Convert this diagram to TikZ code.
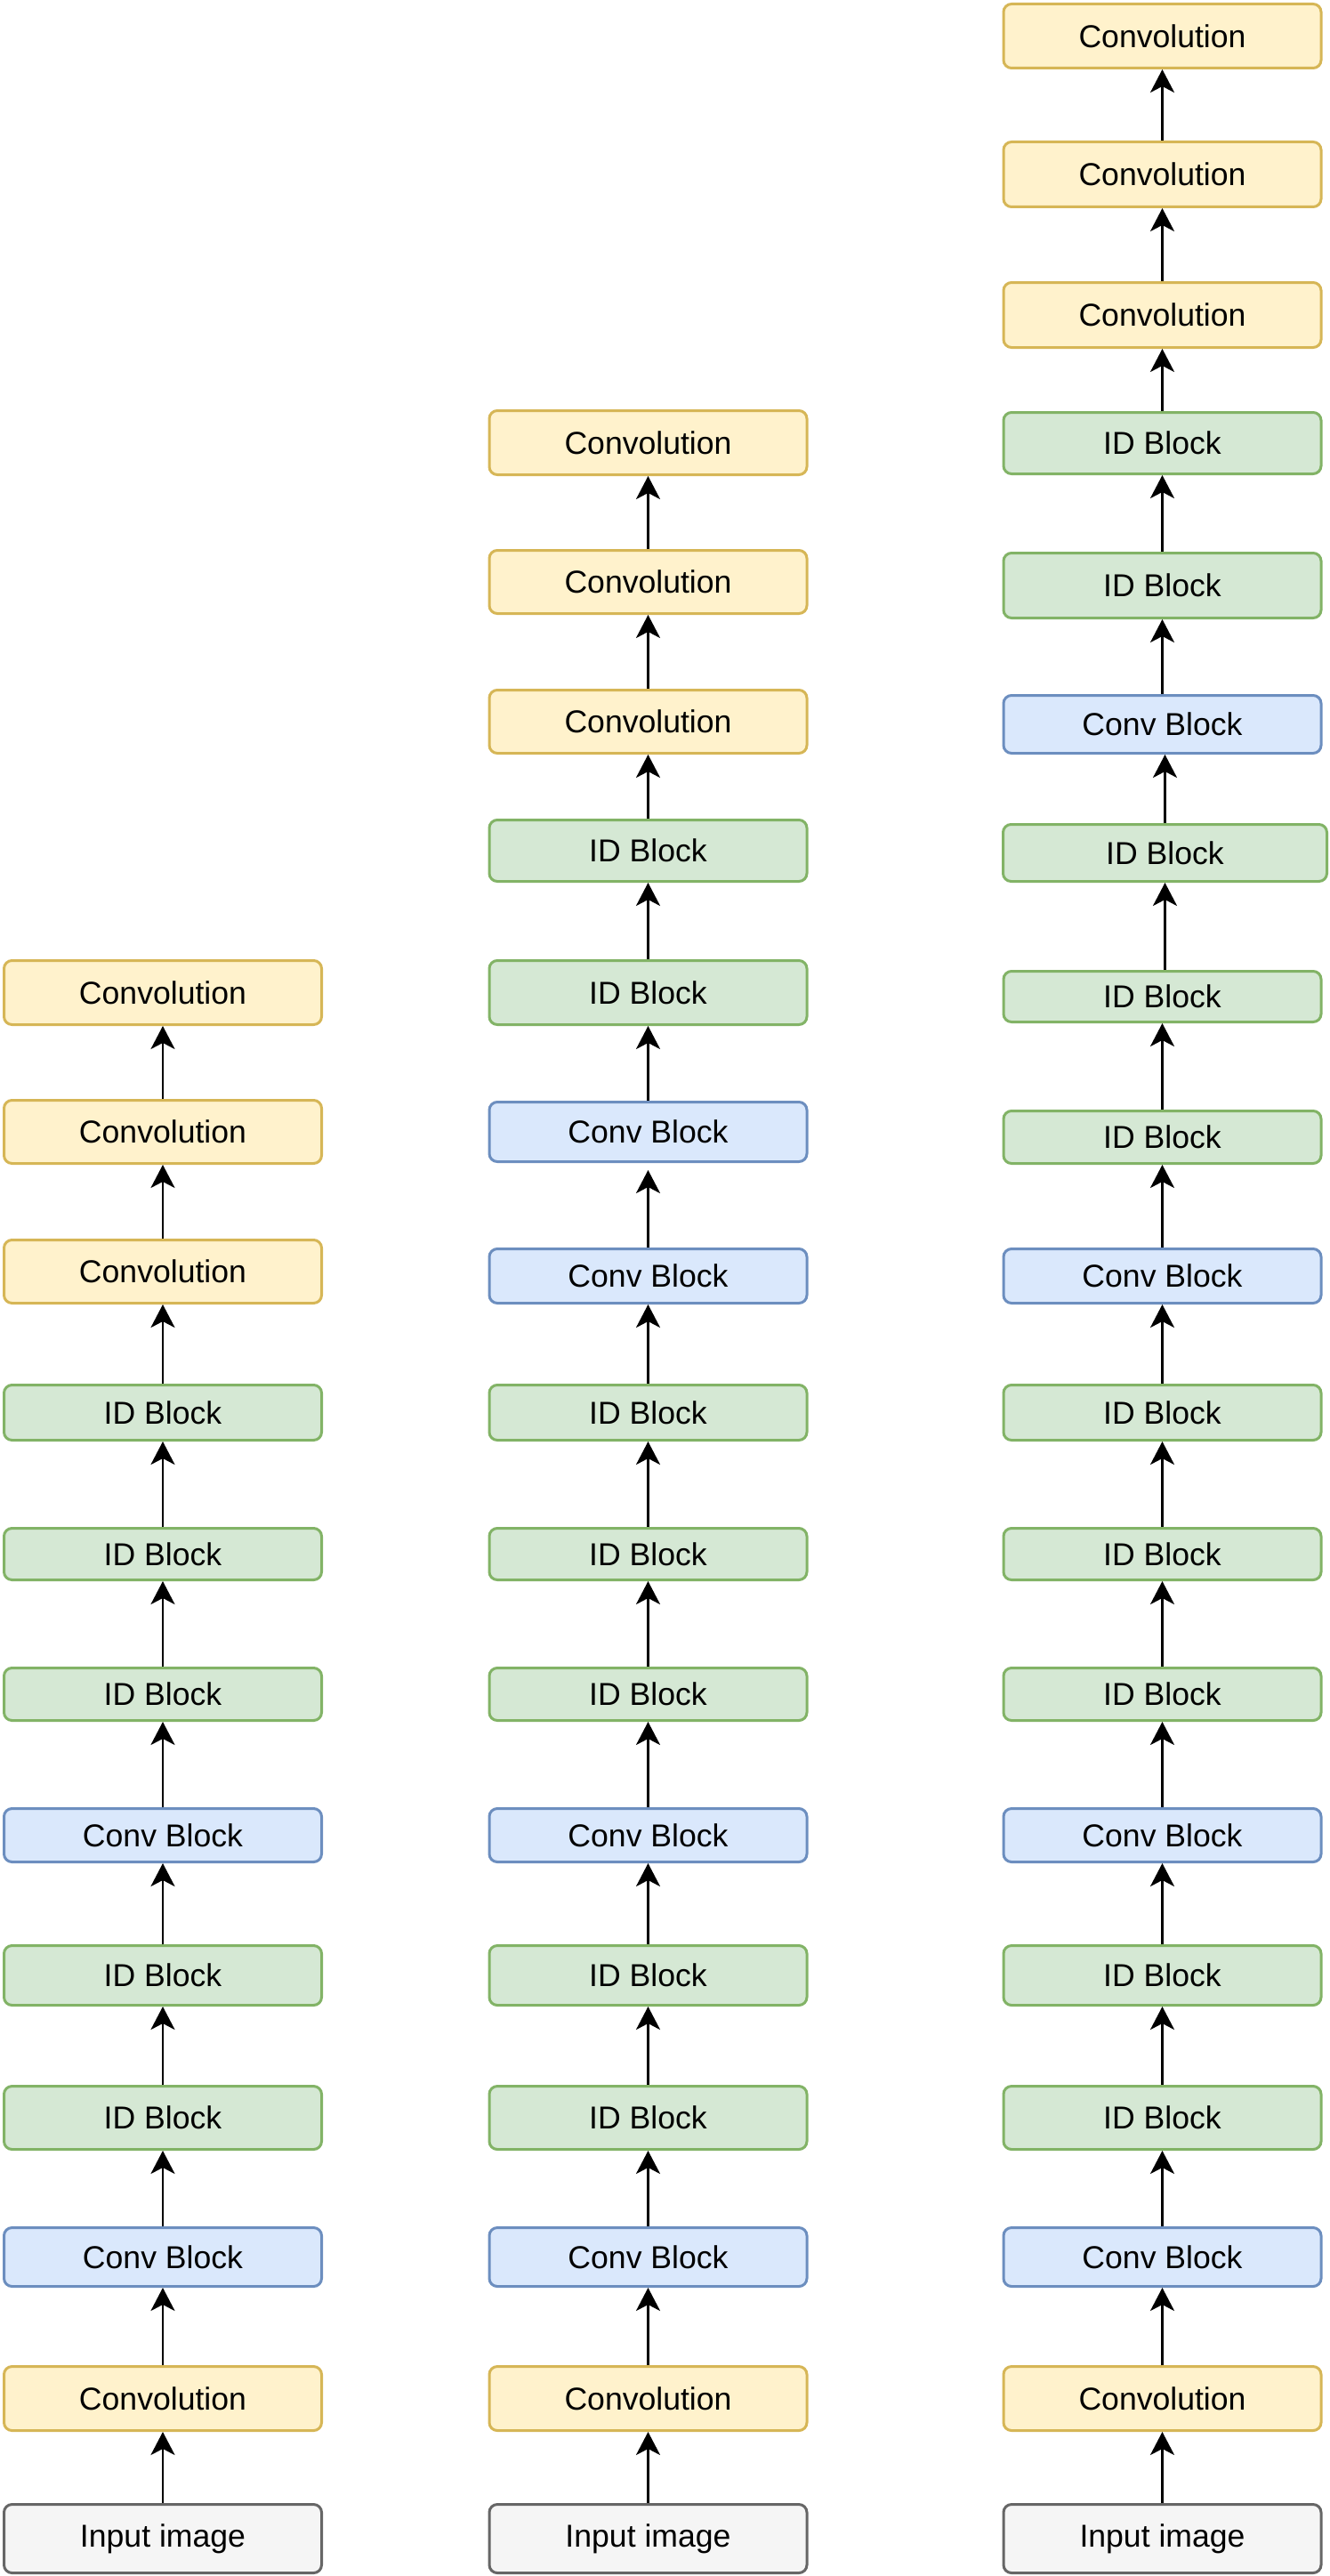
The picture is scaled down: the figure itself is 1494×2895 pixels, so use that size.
\documentclass[tikz,border=0pt]{standalone}
\usepackage{fontspec}
\setmainfont{Liberation Sans}
\usetikzlibrary{arrows.meta}

\definecolor{convfill}{HTML}{FFF2CC}\definecolor{convline}{HTML}{D6B656}
\definecolor{cbfill}{HTML}{DAE8FC}\definecolor{cbline}{HTML}{6C8EBF}
\definecolor{idfill}{HTML}{D5E8D4}\definecolor{idline}{HTML}{82B366}
\definecolor{infill}{HTML}{F5F5F5}\definecolor{inline}{HTML}{666666}

\tikzset{
  box/.style={rectangle, rounded corners=4.5pt, line width=1.5pt, inner sep=0pt,
    minimum width=178.5pt, font=\fontsize{17.8}{20}\selectfont},
  convbox/.style={box, fill=convfill, draw=convline},
  cbbox/.style={box, fill=cbfill, draw=cbline},
  idbox/.style={box, fill=idfill, draw=idline},
  inbox/.style={box, fill=infill, draw=inline},
  arr/.style={line width=1.35pt, -{Stealth[length=13pt,width=13.5pt,inset=3.5pt]}}
}

\begin{document}
\begin{tikzpicture}[x=0.5pt,y=-0.5pt]
\useasboundingbox (0,0) rectangle (1494,2895);

% shared lower part of the three networks
\foreach \c/\x in {l/183,m/728.5,r/1306.5}{
  \foreach \n/\s/\t/\y/\h in {
      1/inbox/Input image/2853/80,
      2/convbox/Convolution/2695.5/75,
      3/cbbox/Conv Block/2536.5/69,
      4/idbox/ID Block/2380/74,
      5/idbox/ID Block/2220/70,
      6/cbbox/Conv Block/2062.5/63,
      7/idbox/ID Block/1904/62,
      8/idbox/ID Block/1746.5/61,
      9/idbox/ID Block/1587.5/65}{
    \node[\s, minimum height=\h*0.5pt-1.5pt] (\c\n) at (\x,\y) {\t};
  }
  \foreach \a/\b in {1/2,2/3,3/4,4/5,5/6,6/7,7/8,8/9}{
    \draw[arr] (\c\a) -- (\c\b);
  }
}

% left network: head
\foreach \n/\s/\t/\y/\h in {
    10/convbox/Convolution/1429/74,
    11/convbox/Convolution/1272/74,
    12/convbox/Convolution/1115.5/75}{
  \node[\s, minimum height=\h*0.5pt-1.5pt] (l\n) at (183,\y) {\t};
}
\foreach \a/\b in {9/10,10/11,11/12}{\draw[arr] (l\a) -- (l\b);}

% middle network: extra stage and head
\foreach \n/\s/\t/\y/\h in {
    10/cbbox/Conv Block/1434/64,
    11/cbbox/Conv Block/1272/70,
    12/idbox/ID Block/1115.5/75,
    13/idbox/ID Block/956/72,
    14/convbox/Convolution/811/74,
    15/convbox/Convolution/654/74,
    16/convbox/Convolution/497.5/75}{
  \node[\s, minimum height=\h*0.5pt-1.5pt] (m\n) at (728.5,\y) {\t};
}
\draw[arr] (m9) -- (m10);
\draw[arr, shorten >=4pt] (m10) -- (m11);
\foreach \a/\b in {11/12,12/13,13/14,14/15,15/16}{\draw[arr] (m\a) -- (m\b);}

% right network: deeper stages and head
\foreach \n/\s/\t/\y/\h in {
    10/cbbox/Conv Block/1434/64,
    11/idbox/ID Block/1278/62,
    12/idbox/ID Block/1120/60,
    14/cbbox/Conv Block/814/68,
    15/idbox/ID Block/658/76,
    16/idbox/ID Block/498/72,
    17/convbox/Convolution/354/76,
    18/convbox/Convolution/196/76,
    19/convbox/Convolution/40.5/75}{
  \node[\s, minimum height=\h*0.5pt-1.5pt] (r\n) at (1306.5,\y) {\t};
}
\node[idbox, minimum width=182pt, minimum height=32pt] (r13) at (1309.5,958.5) {ID Block};
\foreach \a/\b in {9/10,10/11,11/12,14/15,15/16,16/17,17/18,18/19}{\draw[arr] (r\a) -- (r\b);}
\draw[arr] (r12.north -| r13) -- (r13.south);
\draw[arr] (r13.north) -- (r13.north |- r14.south);
\end{tikzpicture}
\end{document}
